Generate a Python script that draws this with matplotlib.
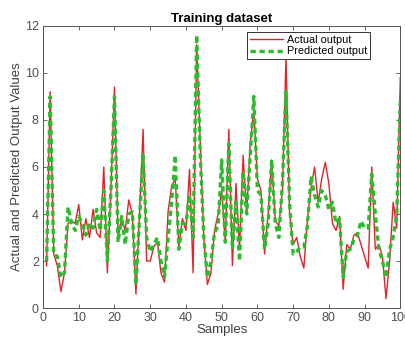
import numpy as np
import matplotlib
matplotlib.use('Agg')
import matplotlib.pyplot as plt

plt.rcParams['font.family'] = ['Liberation Sans', 'DejaVu Sans']

# sample index 1..100
samples = np.arange(1, 101)

# actual output (red)
actual = [1.8, 9.2, 2.3, 1.8, 0.7, 1.5, 3.6, 3.7, 3.6, 4.4,
          2.9, 3.8, 3.0, 4.2, 3.2, 3.0, 6.0, 1.5, 5.0, 9.4,
          3.0, 3.8, 3.3, 4.6, 4.0, 0.6, 4.0, 7.6, 2.0, 2.0,
          2.6, 2.8, 1.5, 1.1, 4.1, 5.2, 5.5, 2.6, 3.8, 3.3,
          5.9, 1.5, 11.2, 7.0, 3.0, 1.0, 1.5, 3.3, 4.0, 5.0,
          2.8, 7.6, 1.8, 5.3, 2.5, 6.5, 4.0, 7.0, 8.4, 5.5,
          5.0, 2.3, 4.0, 6.3, 3.7, 3.5, 5.0, 10.7, 4.0, 2.7,
          3.0, 2.2, 1.7, 3.8, 5.1, 6.0, 4.5, 5.5, 6.2, 5.3,
          3.6, 3.3, 3.9, 0.8, 2.7, 2.5, 3.1, 3.2, 2.7, 2.2,
          1.7, 6.0, 2.5, 2.7, 2.2, 0.4, 2.0, 4.5, 3.4, 9.8]

# predicted output (green dashed)
predicted = [2.0, 9.0, 2.3, 2.2, 1.3, 1.5, 4.3, 3.6, 3.3, 3.9,
             3.6, 3.1, 3.6, 3.4, 4.2, 3.3, 5.0, 2.0, 5.0, 9.0,
             2.8, 3.9, 2.7, 4.0, 4.1, 1.0, 3.8, 6.5, 3.0, 2.4,
             2.7, 3.0, 2.0, 1.3, 3.0, 4.5, 6.5, 2.5, 3.6, 3.6,
             4.8, 3.0, 11.6, 6.5, 3.0, 1.3, 2.0, 3.2, 3.5, 6.3,
             2.8, 7.0, 2.5, 4.5, 2.0, 5.8, 4.0, 6.5, 9.0, 5.0,
             4.8, 2.5, 3.6, 6.3, 3.6, 3.0, 5.3, 9.2, 4.5, 2.3,
             2.4, 2.6, 2.6, 3.5, 5.6, 4.8, 4.3, 5.0, 4.8, 4.2,
             4.5, 3.6, 3.8, 1.3, 2.4, 2.5, 2.9, 3.1, 3.7, 3.4,
             3.4, 5.7, 4.0, 2.5, 2.0, 1.3, 2.5, 3.0, 4.0, 8.8]

fig = plt.figure(figsize=(4.06, 3.45), dpi=100)
ax = fig.add_axes([0.106, 0.107, 0.880, 0.818])

ax.plot(samples, actual, color='#e4222a', linewidth=1.0, label='Actual output')
ax.plot(samples, predicted, color='#2cbb2c', linewidth=2.4, linestyle='--',
        dashes=(1.6, 1.1), label='Predicted output')

ax.set_xlim(0, 100)
ax.set_ylim(0, 12)
ax.set_xticks(range(0, 101, 10))
ax.set_yticks(range(0, 13, 2))
ax.tick_params(direction='in', top=True, right=True, labelsize=9,
               colors='#505050', length=3, width=0.6, pad=3)
for s in ax.spines.values():
    s.set_color('#555555')
    s.set_linewidth(0.7)

ax.set_title('Training dataset', fontsize=9.5, fontweight='bold', pad=3)
ax.set_xlabel('Samples', fontsize=9.5, color='#404040', labelpad=0)
ax.set_ylabel('Actual and Predicted Output Values', fontsize=9.5, color='#404040', labelpad=1)

leg = ax.legend(loc='upper right', bbox_to_anchor=(0.915, 0.978), fontsize=7.8,
                fancybox=False, framealpha=1, edgecolor='#333333', borderpad=0.25,
                handlelength=3.0, labelspacing=0.15, borderaxespad=0.0,
                handletextpad=0.4)
leg.get_frame().set_linewidth(0.7)

fig.savefig('out.png', dpi=100)
